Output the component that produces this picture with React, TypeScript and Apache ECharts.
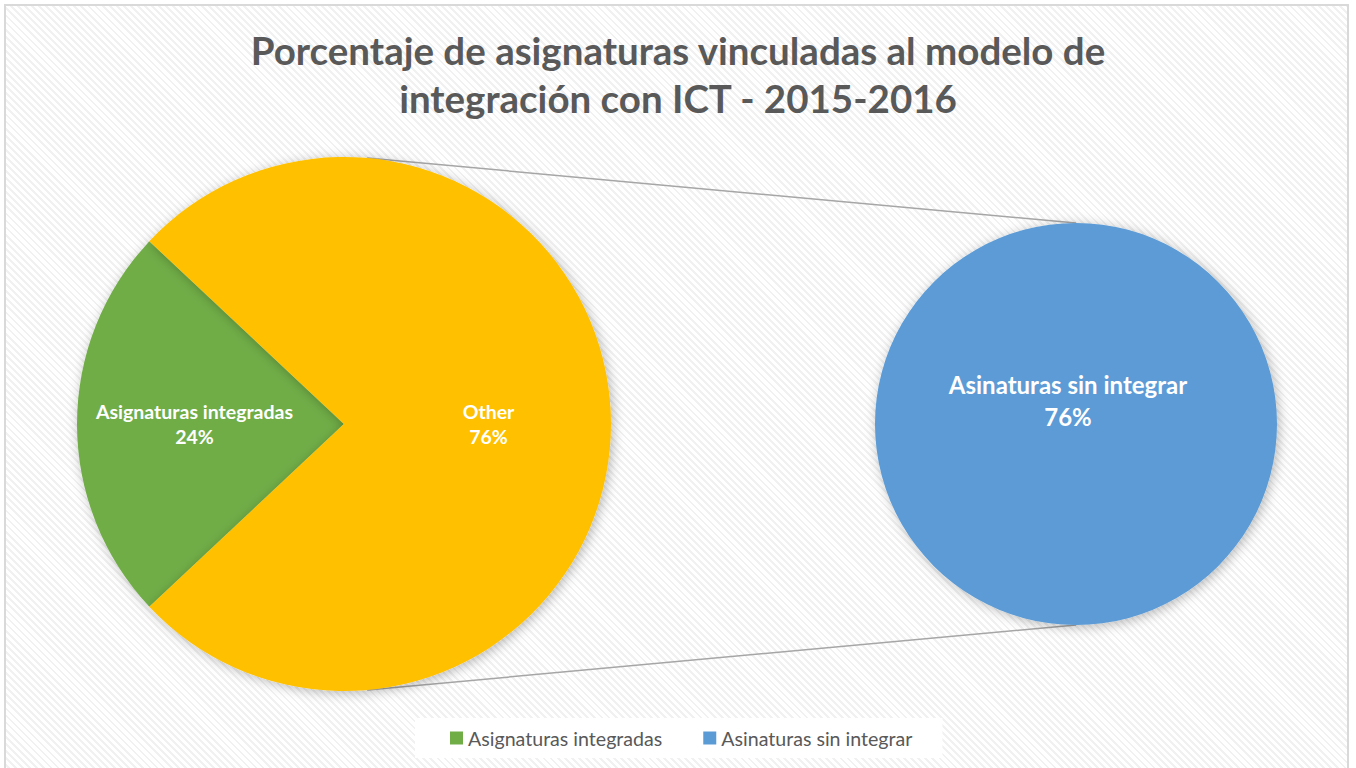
import React, { useEffect, useRef } from "react";
import * as echarts from "echarts";

const titleLines = ["Porcentaje de asignaturas vinculadas al modelo de", "integración con ICT - 2015-2016"];
const mainCategories = ["Asignaturas integradas", "Other"];
const mainValues = [24, 76];
const subCategories = ["Asinaturas sin integrar"];
const subValues = [76];
const legendItems = ["Asignaturas integradas", "Asinaturas sin integrar"];

const GREEN = "#70AD47";
const YELLOW = "#FFC000";
const BLUE = "#5B9BD5";
const FONT = "Lato";

export default function App() {
  const ref = useRef<HTMLDivElement>(null);
  useEffect(() => {
    document.body.style.margin = "0";
    if (!ref.current) return;
    const chart = echarts.init(ref.current, undefined, { renderer: "svg" });

    const mainCenter = [344, 424];
    const mainR = 267;
    const subCenter = [1076, 424];
    const subR = 201;
    const total = mainValues.reduce((a, b) => a + b, 0);
    const firstShare = mainValues[0] / total;
    const startAngle = 180 + firstShare * 180;

    const a = (5 * Math.PI) / 180;
    const upStart = [mainCenter[0] + mainR * Math.sin(a), mainCenter[1] - mainR * Math.cos(a)];
    const lowStart = [mainCenter[0] + mainR * Math.sin(a), mainCenter[1] + mainR * Math.cos(a)];
    const upEnd = [subCenter[0], subCenter[1] - subR];
    const lowEnd = [subCenter[0], subCenter[1] + subR];

    const shadow = { shadowBlur: 12, shadowColor: "rgba(0,0,0,0.28)", shadowOffsetX: 2, shadowOffsetY: 2 };

    chart.setOption({
      animation: false,
      title: {
        text: titleLines.join("\n"),
        left: "center",
        top: 21,
        textStyle: { fontFamily: FONT, fontWeight: "bold", fontSize: 38.5, color: "#595959", lineHeight: 48 },
      },
      legend: {
        data: legendItems,
        bottom: 10,
        left: 415,
        backgroundColor: "#ffffff",
        padding: [10, 30, 10, 35],
        itemWidth: 13,
        itemHeight: 13,
        itemGap: 41,
        icon: "rect",
        textStyle: { fontFamily: FONT, fontSize: 19.6, color: "#595959" },
        selectedMode: false,
      },
      graphic: [
        { type: "line", shape: { x1: upStart[0], y1: upStart[1], x2: upEnd[0], y2: upEnd[1] }, style: { stroke: "#a6a6a6", lineWidth: 1.5 }, z: 0 },
        { type: "line", shape: { x1: lowStart[0], y1: lowStart[1], x2: lowEnd[0], y2: lowEnd[1] }, style: { stroke: "#a6a6a6", lineWidth: 1.5 }, z: 0 },
      ],
      series: [
        {
          type: "pie",
          center: mainCenter,
          radius: mainR,
          startAngle,
          clockwise: true,
          silent: true,
          itemStyle: { ...shadow },
          label: {
            show: true,
            position: "inside",
            formatter: "{b}\n{c}%",
            color: "#ffffff",
            fontFamily: FONT,
            fontWeight: "bold",
            fontSize: 19.5,
            lineHeight: 25,
          },
          labelLine: { show: false },
          data: mainCategories.map((name, i) => ({
            name,
            value: mainValues[i],
            itemStyle: { color: i === 0 ? GREEN : YELLOW },
            label: { offset: i === 0 ? [-13, 0] : [8, 0] },
          })),
        },
        {
          type: "pie",
          center: subCenter,
          radius: subR,
          silent: true,
          itemStyle: { ...shadow },
          label: {
            show: true,
            position: "center",
            formatter: "{b}\n{c}%",
            color: "#ffffff",
            fontFamily: FONT,
            fontWeight: "bold",
            fontSize: 24,
            lineHeight: 32,
            offset: [-8, -24],
          },
          labelLine: { show: false },
          data: subCategories.map((name, i) => ({
            name,
            value: subValues[i],
            itemStyle: { color: BLUE },
          })),
        },
      ],
    });
    return () => chart.dispose();
  }, []);

  return (
    <div style={{ position: "relative", width: 1356, height: 768, overflow: "hidden", background: "#ffffff" }}>
      <div
        style={{
          position: "absolute",
          left: 4,
          top: 4,
          width: 1341,
          height: 800,
          border: "2px solid #d9d9d9",
          background:
            "repeating-linear-gradient(45deg, #ffffff 0px, #ffffff 3px, #f1f1f1 3px, #f1f1f1 5px)",
        }}
      />
      <div ref={ref} style={{ position: "absolute", left: 0, top: 0, width: 1356, height: 768 }} />
    </div>
  );
}
